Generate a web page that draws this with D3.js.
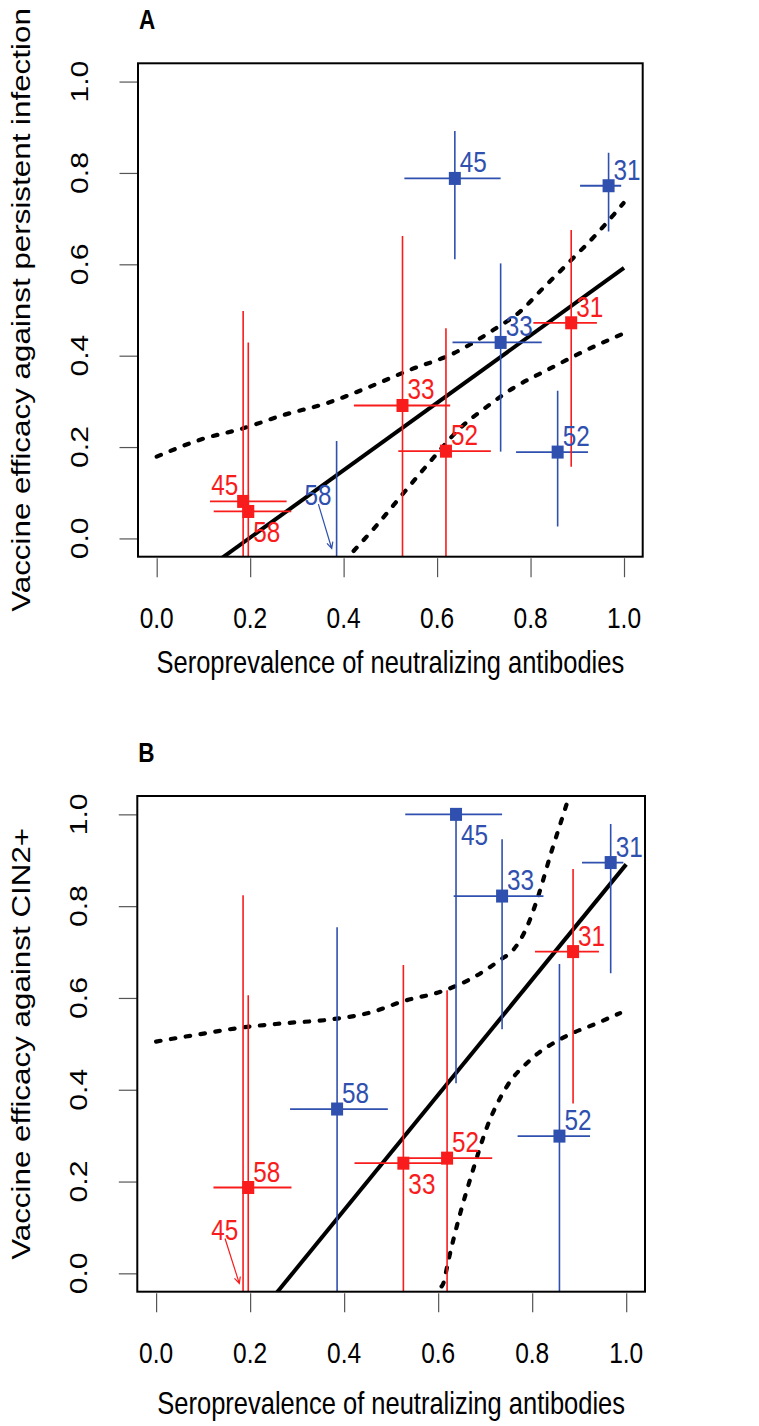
<!DOCTYPE html>
<html><head><meta charset="utf-8">
<script src="https://cdn.jsdelivr.net/npm/d3@7"></script>
<style>body{margin:0;background:#fff} text{font-family:"Liberation Sans",Arial,sans-serif}</style>
</head><body>
<svg id="chart" width="759" height="1426"></svg>
<script>
// ---------- data ----------
const tickValues = [0, 0.2, 0.4, 0.6, 0.8, 1.0];
const tickLabels = ["0.0", "0.2", "0.4", "0.6", "0.8", "1.0"];
const xTitle = "Seroprevalence of neutralizing antibodies";
const yTitleA = "Vaccine efficacy against persistent infection";
const yTitleB = "Vaccine efficacy against CIN2+";
const types = ["31", "33", "45", "52", "58"];

// seroprevalence (shared by both panels)
const blueX   = [0.967, 0.736, 0.638, 0.858, 0.385];
const blueXlo = [0.906, 0.633, 0.530, 0.769, 0.285];
const blueXhi = [0.994, 0.824, 0.736, 0.923, 0.493];
const redX    = [0.887, 0.526, 0.185, 0.619, 0.196];
const redXlo  = [0.806, 0.422, 0.114, 0.517, 0.122];
const redXhi  = [0.942, 0.628, 0.278, 0.715, 0.288];

// Panel A: efficacy against persistent infection
const blueA_y  = [0.772, 0.429, 0.788, 0.189, -0.30];
const blueA_lo = [0.672, 0.190, 0.611, 0.026, -0.90];
const blueA_hi = [0.844, 0.602, 0.892, 0.323, 0.213];
const redA_y   = [0.472, 0.291, 0.081, 0.191, 0.059];
const redA_lo  = [0.157, -0.80, -0.90, -0.70, -0.90];
const redA_hi  = [0.675, 0.662, 0.498, 0.460, 0.429];

// Panel B: efficacy against CIN2+
const blueB_y  = [0.895, 0.822, 1.000, 0.299, 0.358];
const blueB_lo = [0.654, 0.532, 0.414, -0.60, -0.60];
const blueB_hi = [0.979, 0.946, 1.000, 0.674, 0.754];
const redB_y   = [0.701, 0.240, -0.30, 0.251, 0.187];
const redB_lo  = [0.370, -0.70, -0.90, -0.70, -0.80];
const redB_hi  = [0.881, 0.672, 0.824, 0.617, 0.606];

// label placement (ne = above right, se = below right, nw = above left, arrow = off-plot pointer)
const blueA_lab = ["ne", "ne", "ne", "ne", "arrow"];
const redA_lab  = ["ne", "ne", "nw", "ne", "se"];
const blueB_lab = ["ne", "ne", "se", "ne", "ne"];
const redB_lab  = ["ne", "se", "arrow", "ne", "ne"];

// off-plot pointers: [labelX, labelY, arrowFromX, arrowFromY, arrowToX, arrowToY]
const arrowA = [0.345, 0.073, 0.346, 0.075, 0.3745, -0.022];
const arrowB = [0.146, 0.073, 0.1466, 0.076, 0.177, -0.022];

// regression fits
const fitA      = [[0.10, -0.072], [1.0, 0.592]];
const fitA_up   = [[0.0, 0.179], [0.096, 0.217], [0.185, 0.241], [0.271, 0.270], [0.364, 0.296], [0.456, 0.332], [0.542, 0.369], [0.635, 0.405], [0.720, 0.456], [0.777, 0.496], [0.827, 0.548], [0.877, 0.599], [0.949, 0.675], [0.999, 0.734]];
const fitA_low  = [[0.400, -0.052], [0.414, -0.036], [0.471, 0.029], [0.528, 0.099], [0.585, 0.168], [0.649, 0.241], [0.706, 0.288], [0.763, 0.329], [0.842, 0.372], [0.913, 0.409], [1.0, 0.449]];
const fitB      = [[0.24, -0.063], [1.0, 0.891]];
const fitB_up   = [[0.0, 0.505], [0.093, 0.521], [0.186, 0.536], [0.274, 0.545], [0.370, 0.553], [0.462, 0.570], [0.523, 0.592], [0.615, 0.617], [0.672, 0.643], [0.732, 0.683], [0.760, 0.705], [0.789, 0.755], [0.810, 0.813], [0.842, 0.922], [0.867, 1.002], [0.885, 1.06]];
const fitB_low  = [[0.600, -0.06], [0.604, -0.036], [0.611, -0.022], [0.622, 0.029], [0.647, 0.131], [0.672, 0.218], [0.704, 0.319], [0.746, 0.407], [0.796, 0.465], [0.867, 0.514], [0.938, 0.545], [0.987, 0.567]];

// ---------- drawing ----------
const BLUE = "#2f50ae", RED = "#f81c1c";
const K = 1.23; // vertical text stretch of reference
const svg = d3.select("#chart");

function addText(g, x, y, str, o = {}) {
  const t = g.append("text")
    .attr("transform", `translate(${x},${y}) scale(1,${K})` + (o.rot ? " rotate(-90)" : ""))
    .attr("text-anchor", o.anchor || "start")
    .attr("font-size", o.size || 24)
    .attr("fill", o.fill || "#000")
    .text(str);
  if (o.bold) t.attr("font-weight", "bold");
  return t;
}

function panel(cfg) {
  const x = d3.scaleLinear().domain([-0.04, 1.04]).range([cfg.left, cfg.right]);
  const y = d3.scaleLinear().domain([-0.04, 1.04]).range([cfg.bottom, cfg.top]);
  const g = svg.append("g");

  g.append("clipPath").attr("id", cfg.id).append("rect")
    .attr("x", cfg.left).attr("y", cfg.top)
    .attr("width", cfg.right - cfg.left).attr("height", cfg.bottom - cfg.top);

  // axes (ticks only)
  const ax = g.append("g").attr("transform", `translate(0,${cfg.bottom + 1.5})`)
    .call(d3.axisBottom(x).tickValues(tickValues).tickSize(19).tickSizeOuter(0).tickFormat(""));
  const ay = g.append("g").attr("transform", `translate(${cfg.left - 0.5},0)`)
    .call(d3.axisLeft(y).tickValues(tickValues).tickSize(18).tickSizeOuter(0).tickFormat(""));
  [ax, ay].forEach(a => {
    a.select(".domain").remove();
    a.selectAll("line").attr("stroke", "#555").attr("stroke-width", 1.2);
  });

  tickValues.forEach((v, i) => {
    addText(g, x(v), cfg.bottom + 71, tickLabels[i], { anchor: "middle", size: 24.5 });
    addText(g, cfg.left - 50, y(v), tickLabels[i], { anchor: "middle", size: 24.5, rot: true });
  });
  addText(g, (cfg.left + cfg.right) / 2, cfg.bottom + cfg.xTitleOff, xTitle, { anchor: "middle", size: 25.5 });
  addText(g, 30, (cfg.top + cfg.bottom) / 2, cfg.yTitle, { anchor: "middle", size: 25.5, rot: true });
  addText(g, cfg.left + 1, cfg.top - 34, cfg.letter, { size: 22.5, bold: true });

  const plot = g.append("g").attr("clip-path", `url(#${cfg.id})`);

  // fits
  const line = d3.line().x(d => x(d[0])).y(d => y(d[1]));
  const curve = d3.line().x(d => x(d[0])).y(d => y(d[1])).curve(d3.curveMonotoneX);
  plot.append("path").attr("d", line(cfg.fit)).attr("fill", "none")
    .attr("stroke", "#000").attr("stroke-width", 4);
  [cfg.fitUp, cfg.fitLow].forEach(c => {
    plot.append("path").attr("d", curve(c)).attr("fill", "none")
      .attr("stroke", "#000").attr("stroke-width", 4.2)
      .attr("stroke-linecap", "round").attr("stroke-dasharray", "4.5,10.5");
  });

  // series
  cfg.series.forEach(s => {
    types.forEach((t, i) => {
      const px = x(s.x[i]), py = y(s.y[i]);
      plot.append("line").attr("x1", px).attr("x2", px)
        .attr("y1", y(s.lo[i])).attr("y2", y(s.hi[i]))
        .attr("stroke", s.color).attr("stroke-width", 1.6);
      plot.append("line").attr("x1", x(s.xlo[i])).attr("x2", x(s.xhi[i]))
        .attr("y1", py).attr("y2", py)
        .attr("stroke", s.color).attr("stroke-width", 1.8);
      plot.append("rect").attr("x", px - 6).attr("y", py - 6.5)
        .attr("width", 12).attr("height", 13).attr("fill", s.color);

      const pos = s.lab[i];
      if (pos === "ne") addText(g, px + 5, py - 6, t, { fill: s.color, size: 24.3 });
      else if (pos === "se") addText(g, px + 5, py + 31, t, { fill: s.color, size: 24.3 });
      else if (pos === "nw") addText(g, px - 5, py - 6, t, { fill: s.color, size: 24.3, anchor: "end" });
      else if (pos === "arrow") {
        const a = cfg.arrow;
        addText(g, x(a[0]), y(a[1]), t, { fill: s.color, size: 24.3, anchor: "middle" });
        const x1 = x(a[2]), y1 = y(a[3]), x2 = x(a[4]), y2 = y(a[5]);
        const ang = Math.atan2(y2 - y1, x2 - x1), L = 7, sp = 0.45;
        g.append("path")
          .attr("d", `M${x1},${y1}L${x2},${y2}M${x2 - L * Math.cos(ang - sp)},${y2 - L * Math.sin(ang - sp)}L${x2},${y2}L${x2 - L * Math.cos(ang + sp)},${y2 - L * Math.sin(ang + sp)}`)
          .attr("fill", "none").attr("stroke", s.color).attr("stroke-width", 1.2);
      }
    });
  });

  // box
  g.append("rect").attr("x", cfg.left).attr("y", cfg.top)
    .attr("width", cfg.right - cfg.left).attr("height", cfg.bottom - cfg.top)
    .attr("fill", "none").attr("stroke", "#000").attr("stroke-width", 2);
}

panel({
  id: "clipA", letter: "A", yTitle: yTitleA,
  left: 138, right: 642.7, top: 63.3, bottom: 556.7, xTitleOff: 116,
  fit: fitA, fitUp: fitA_up, fitLow: fitA_low, arrow: arrowA,
  series: [
    { color: BLUE, x: blueX, xlo: blueXlo, xhi: blueXhi, y: blueA_y, lo: blueA_lo, hi: blueA_hi, lab: blueA_lab },
    { color: RED, x: redX, xlo: redXlo, xhi: redXhi, y: redA_y, lo: redA_lo, hi: redA_hi, lab: redA_lab }
  ]
});
panel({
  id: "clipB", letter: "B", yTitle: yTitleB,
  left: 137.3, right: 645, top: 796, bottom: 1291.7, xTitleOff: 122,
  fit: fitB, fitUp: fitB_up, fitLow: fitB_low, arrow: arrowB,
  series: [
    { color: BLUE, x: blueX, xlo: blueXlo, xhi: blueXhi, y: blueB_y, lo: blueB_lo, hi: blueB_hi, lab: blueB_lab },
    { color: RED, x: redX, xlo: redXlo, xhi: redXhi, y: redB_y, lo: redB_lo, hi: redB_hi, lab: redB_lab }
  ]
});
</script>
</body></html>
